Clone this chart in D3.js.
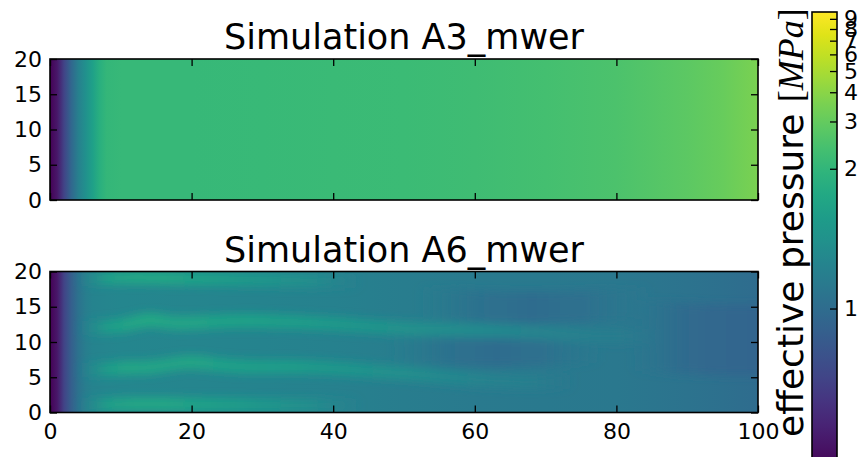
<!DOCTYPE html>
<html>
<head>
<meta charset="utf-8">
<script src="https://cdn.jsdelivr.net/npm/d3@7"></script>
<style>
body { margin: 0; background: #fff; }
text { font-family: "DejaVu Sans", sans-serif; fill: #000; }
</style>
</head>
<body>
<svg id="chart" width="860" height="457"></svg>
<script>
// effective pressure [MPa] along x

// top panel (A3_mwer): same value along every row
var topX = [0, 1, 2, 3, 4, 5, 6, 7, 8, 10, 20, 30, 40, 50, 60, 70, 80, 90, 95, 100];
var topP = [0.826, 0.836, 0.882, 0.976, 1.117, 1.278, 1.5, 1.83, 2.03, 2.1, 2.1, 2.12, 2.15, 2.18, 2.25, 2.35, 2.5, 2.85, 3.1, 3.55];

// bottom panel (A6_mwer): background along x
var botX = [0, 1, 2, 3, 4, 5, 6, 8, 10, 20, 30, 40, 50, 60, 70, 80, 90, 95, 100];
var botP = [0.826, 0.836, 0.882, 0.948, 1.03, 1.1, 1.15, 1.17, 1.175, 1.17, 1.15, 1.13, 1.1, 1.08, 1.07, 1.066, 1.04, 1.015, 1.0];

// brighter channels in the bottom panel
var chanAX = [4, 8, 12, 16, 20, 25, 31, 37, 44];
var chanAY = [18.9, 19.1, 19.2, 19.1, 19.0, 18.9, 18.8, 18.7, 18.6];
var chanAP = [1.17, 1.48, 1.62, 1.62, 1.55, 1.44, 1.34, 1.25, 1.15];

var chanBX = [4, 8, 11, 14, 17, 20, 25, 30, 35, 40, 45, 50, 56, 62, 68, 74, 80, 86];
var chanBY = [12.0, 12.1, 12.4, 13.4, 12.6, 12.7, 13.0, 13.0, 12.8, 12.6, 12.2, 11.9, 11.7, 11.6, 11.4, 11.0, 10.8, 10.8];
var chanBP = [1.17, 1.45, 1.58, 1.65, 1.58, 1.58, 1.54, 1.5, 1.45, 1.4, 1.34, 1.29, 1.24, 1.2, 1.16, 1.13, 1.1, 1.07];

var chanCX = [4, 8, 11, 14, 17, 20, 24, 28, 33, 38, 44, 50, 56, 62, 68, 74];
var chanCY = [6.0, 6.1, 6.4, 6.3, 6.8, 7.3, 6.7, 6.4, 6.5, 6.4, 6.0, 5.6, 5.0, 4.5, 4.3, 4.4];
var chanCP = [1.17, 1.45, 1.6, 1.58, 1.56, 1.6, 1.52, 1.48, 1.45, 1.4, 1.33, 1.26, 1.19, 1.14, 1.11, 1.08];

var chanDX = [4, 8, 12, 16, 20, 25, 31, 37, 44];
var chanDY = [1.0, 1.1, 1.2, 1.2, 1.1, 1.1, 1.0, 1.0, 1.0];
var chanDP = [1.17, 1.48, 1.62, 1.62, 1.55, 1.46, 1.36, 1.25, 1.15];

// darker patches in the bottom panel
var lowAX = [52, 60, 68, 76, 85];
var lowAY = [15.6, 15.0, 14.8, 15.0, 15.6];
var lowAP = [1.08, 1.03, 1.0, 1.02, 1.06];

var lowBX = [48, 56, 63, 70, 78];
var lowBY = [9.2, 8.8, 8.6, 8.8, 9.4];
var lowBP = [1.08, 1.03, 1.0, 1.02, 1.06];

var lowCX = [82, 89, 94, 100, 108];
var lowCY = [11, 10.5, 10.3, 10.3, 10.3];
var lowCP = [1.06, 1.0, 0.975, 0.97, 0.97];

var xTicks = [0, 20, 40, 60, 80, 100];
var yTicks = [0, 5, 10, 15, 20];
var cbTicks = [1, 2, 3, 4, 5, 6, 7, 8, 9];
var titles = ["Simulation A3_mwer", "Simulation A6_mwer"];

// colour norm: log of (p - shift)
var pShift = 0.8;
var pMin = 0.8254, pMax = 9.81;

var svg = d3.select("#chart");
svg.append("rect").attr("width", 860).attr("height", 457).attr("fill", "#fff");
var defs = svg.append("defs");

var x = d3.scaleLinear().domain([0, 100]).range([50, 758]);
var yTop = d3.scaleLinear().domain([0, 20]).range([200, 59]);
var yBot = d3.scaleLinear().domain([0, 20]).range([412.5, 271.5]);

var cbPos = d3.scaleLog().domain([pMin - pShift, pMax - pShift]).range([470, 12]);
var cbT = d3.scaleLog().domain([pMin - pShift, pMax - pShift]).range([0, 1]).clamp(true);
var color = function(p){ return d3.interpolateViridis(cbT(p - pShift)); };

// horizontal gradient built from a profile
var hGrad = function(id, xs, ps, fade){
	var n = xs.length;
	var g = defs.append("linearGradient").attr("id", id)
		.attr("gradientUnits", "userSpaceOnUse")
		.attr("x1", x(xs[0])).attr("x2", x(xs[n-1]))
		.attr("y1", 0).attr("y2", 0);
	for(var i = 0; i < n; i++){
		g.append("stop")
			.attr("offset", (xs[i] - xs[0]) / (xs[n-1] - xs[0]))
			.attr("stop-color", color(ps[i]))
			.attr("stop-opacity", (fade && (i == 0 || i == n-1)) ? 0 : 1);
	}
};

var panelRect = function(g, y, fill){
	return g.append("rect")
		.attr("x", x(0)).attr("y", y(20))
		.attr("width", x(100) - x(0)).attr("height", y(0) - y(20))
		.attr("fill", fill);
};

// top panel
hGrad("gradTop", topX, topP, false);
var gTop = svg.append("g");
panelRect(gTop, yTop, "url(#gradTop)");

// bottom panel
hGrad("gradBot", botX, botP, false);
defs.append("clipPath").attr("id", "clipBot").append("rect")
	.attr("x", x(0)).attr("y", yBot(20))
	.attr("width", x(100) - x(0)).attr("height", yBot(0) - yBot(20));
var blur = defs.append("filter").attr("id", "soft")
	.attr("filterUnits", "userSpaceOnUse")
	.attr("x", 0).attr("y", 220).attr("width", 860).attr("height", 237);
blur.append("feGaussianBlur").attr("stdDeviation", 4.5);

var gBot = svg.append("g").attr("clip-path", "url(#clipBot)");
panelRect(gBot, yBot, "url(#gradBot)");
var gStreaks = gBot.append("g").attr("filter", "url(#soft)");

var line = d3.line().curve(d3.curveBasis)
	.x(function(d){ return x(d[0]); })
	.y(function(d){ return yBot(d[1]); });

var streaks = [
	{id: "lowA", xs: lowAX, ys: lowAY, ps: lowAP, w: 4.5},
	{id: "lowB", xs: lowBX, ys: lowBY, ps: lowBP, w: 4.5},
	{id: "lowC", xs: lowCX, ys: lowCY, ps: lowCP, w: 10},
	{id: "chanA", xs: chanAX, ys: chanAY, ps: chanAP, w: 2},
	{id: "chanB", xs: chanBX, ys: chanBY, ps: chanBP, w: 2},
	{id: "chanC", xs: chanCX, ys: chanCY, ps: chanCP, w: 2},
	{id: "chanD", xs: chanDX, ys: chanDY, ps: chanDP, w: 2}
];
streaks.forEach(function(s){
	hGrad("grad_" + s.id, s.xs, s.ps, true);
	var pts = s.xs.map(function(v, i){ return [v, s.ys[i]]; });
	gStreaks.append("path")
		.attr("d", line(pts))
		.attr("fill", "none")
		.attr("stroke", "url(#grad_" + s.id + ")")
		.attr("stroke-width", yBot(0) - yBot(s.w))
		.attr("stroke-linecap", "butt");
});

// axes, ticks and frames
var drawAxes = function(y, withLabels, title){
	var xb = d3.axisBottom(x).tickValues(xTicks).tickSize(-7).tickPadding(11);
	if(!withLabels) xb.tickFormat("");
	var gx = svg.append("g").attr("transform", "translate(0," + y(0) + ")").call(xb);
	var gxt = svg.append("g").attr("transform", "translate(0," + y(20) + ")")
		.call(d3.axisTop(x).tickValues(xTicks).tickSize(-7).tickFormat(""));
	var gy = svg.append("g").attr("transform", "translate(" + x(0) + ",0)")
		.call(d3.axisLeft(y).tickValues(yTicks).tickSize(-7).tickPadding(8));
	var gyr = svg.append("g").attr("transform", "translate(" + x(100) + ",0)")
		.call(d3.axisRight(y).tickValues(yTicks).tickSize(-7).tickFormat(""));
	[gx, gxt, gy, gyr].forEach(function(g){
		g.select(".domain").remove();
		g.selectAll(".tick line").attr("stroke", "#000").attr("stroke-width", 1.3);
		g.selectAll("text").attr("font-size", 22).attr("font-family", "DejaVu Sans").attr("fill", "#000");
	});
	svg.append("rect")
		.attr("x", x(0)).attr("y", y(20))
		.attr("width", x(100) - x(0)).attr("height", y(0) - y(20))
		.attr("fill", "none").attr("stroke", "#000").attr("stroke-width", 1.6);
	svg.append("text")
		.attr("x", (x(0) + x(100)) / 2).attr("y", y(20) - 10)
		.attr("text-anchor", "middle").attr("font-size", 35)
		.text(title);
};
drawAxes(yTop, false, titles[0]);
drawAxes(yBot, true, titles[1]);

// colorbar
var cbL = 812, cbR = 837;
var cg = defs.append("linearGradient").attr("id", "gradCb")
	.attr("gradientUnits", "userSpaceOnUse")
	.attr("x1", 0).attr("x2", 0)
	.attr("y1", cbPos.range()[0]).attr("y2", cbPos.range()[1]);
d3.range(0, 1.0001, 0.05).forEach(function(t){
	cg.append("stop").attr("offset", t).attr("stop-color", d3.interpolateViridis(t));
});
svg.append("rect")
	.attr("x", cbL).attr("y", cbPos.range()[1])
	.attr("width", cbR - cbL).attr("height", cbPos.range()[0] - cbPos.range()[1])
	.attr("fill", "url(#gradCb)").attr("stroke", "#000").attr("stroke-width", 1.6);

var cbTick = svg.append("g").selectAll("g").data(cbTicks).enter().append("g")
	.attr("transform", function(d){ return "translate(0," + cbPos(d - pShift) + ")"; });
cbTick.append("line").attr("x1", cbR).attr("x2", cbR - 7)
	.attr("stroke", "#000").attr("stroke-width", 1.3);
cbTick.append("text").attr("x", 844).attr("dy", "0.32em")
	.attr("font-size", 22).text(function(d){ return d; });

// colorbar label
var lab = svg.append("text")
	.attr("transform", "translate(803,437) rotate(-90)")
	.attr("font-size", 36);
lab.append("tspan").text("effective pressure ");
lab.append("tspan").attr("font-family", "Liberation Serif").text("[");
lab.append("tspan").attr("font-family", "Liberation Serif").attr("font-style", "italic").text("MPa");
lab.append("tspan").attr("font-family", "Liberation Serif").text("]");
</script>
</body>
</html>
